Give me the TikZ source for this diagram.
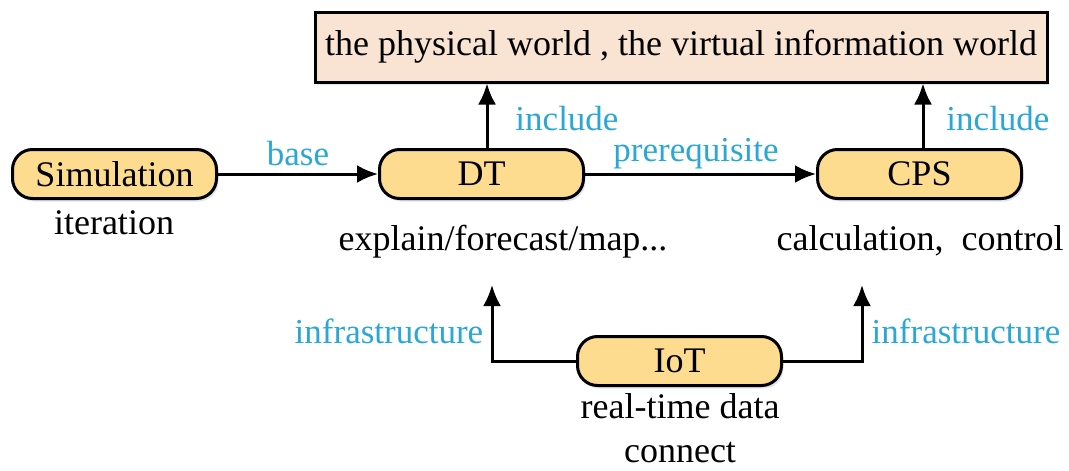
\documentclass[tikz,border=0pt]{standalone}
\usepackage{fontspec}
\setmainfont{Liberation Serif}
\usetikzlibrary{arrows.meta,shadows}
\definecolor{boxfill}{HTML}{FDDB8F}
\definecolor{topfill}{HTML}{F9E3D3}
\definecolor{lblblue}{HTML}{2AA7D6}
\definecolor{shadowc}{HTML}{C9D3E6}
\tikzset{
  txt/.style={font=\fontsize{36}{40}\selectfont, inner sep=0pt, anchor=base},
  lbl/.style={font=\fontsize{35}{39}\selectfont, text=lblblue, inner sep=0pt, anchor=base},
  rbox/.style={draw=black, line width=3pt, fill=boxfill, rounded corners=20pt,
    minimum width=204pt, minimum height=49pt, inner sep=0pt,
    font=\fontsize{36}{40}\selectfont,
    drop shadow={shadow xshift=2pt, shadow yshift=-3pt, fill=shadowc, opacity=0.6}},
  conn/.style={line width=3pt, -{Latex[length=21pt,width=18pt]}}
}
\begin{document}
\begin{tikzpicture}[x=1pt,y=-1pt]
\useasboundingbox (0,0) rectangle (1069,471);
\fill[white] (0,0) rectangle (1069,471);

% top box
\node[draw=black, line width=3pt, fill=topfill, minimum width=732pt, minimum height=70pt,
  inner sep=0pt, font=\fontsize{36}{40}\selectfont,
  drop shadow={shadow xshift=2pt, shadow yshift=-3pt, fill=shadowc, opacity=0.6}]
  (world) at (681,47) {the physical world , the virtual information world};

% main boxes
\node[rbox] (sim) at (114.5,174) {Simulation};
\node[rbox] (dt)  at (481.5,174) {DT};
\node[rbox] (cps) at (919.5,174) {CPS};
\node[rbox] (iot) at (679.5,361) {IoT};

% descriptions
\node[txt] (t1) at (114,234) {iteration};
\node[txt] (t2) at (503,250) {explain/forecast/map...};
\node[txt] (t3) at (920,250) {calculation,\ \ control};
\node[txt] (t4) at (680,418) {real-time data};
\node[txt] (t5) at (680,462) {connect};

% connector targets
\coordinate (dtin)  at (492,285);
\coordinate (cpsin) at (862,285);

% connectors
\draw[conn] (sim.east) -- (dt.west);
\draw[conn] (dt.east) -- (cps.west);
\draw[conn] (dt.north -| 487,0) -- (world.south -| 487,0);
\draw[conn] (cps.north -| 923,0) -- (world.south -| 923,0);
\draw[conn] (iot.west) -| (dtin);
\draw[conn] (iot.east) -| (cpsin);

% labels
\node[lbl] (l1) at (298,165) {base};
\node[lbl] (l2) at (567,130) {include};
\node[lbl] (l3) at (696,161) {prerequisite};
\node[lbl] (l4) at (998,130) {include};
\node[lbl] (l5) at (389,343) {infrastructure};
\node[lbl] (l6) at (966,343) {infrastructure};
\end{tikzpicture}
\end{document}
